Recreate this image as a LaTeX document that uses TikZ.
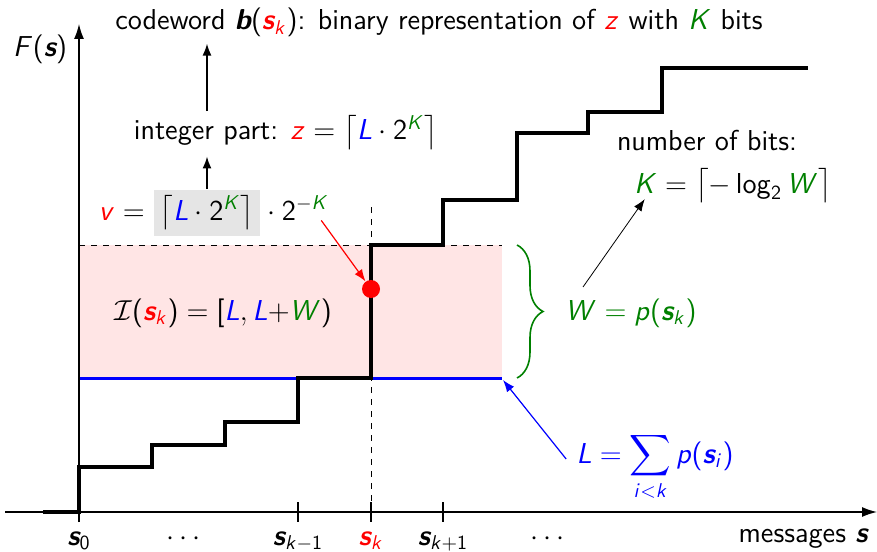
\documentclass[tikz,border=0pt]{standalone}
\usepackage{amsmath}
\usepackage{tikz}
\usetikzlibrary{arrows.meta, positioning, calc, decorations.pathreplacing}
\renewcommand{\familydefault}{\sfdefault}
% sans serif math letters and digits
\DeclareSymbolFont{sfsl}{OT1}{cmss}{m}{sl}
\SetSymbolFont{operators}{normal}{OT1}{cmss}{m}{n}
\makeatletter
\def\sf@letters#1{\ifx#1\relax\else
    \DeclareMathSymbol{#1}{\mathalpha}{sfsl}{`#1}\expandafter\sf@letters\fi}
\sf@letters abcdefghijklmnopqrstuvwxyzABCDEFGHIJKLMNOPQRSTUVWXYZ\relax
\makeatother
\definecolor{dkgreen}{rgb}{0,0.5,0}
\newcommand{\vs}{\text{\sffamily\bfseries\slshape s}}
\newcommand{\vb}{\text{\sffamily\bfseries\slshape b}}
\newcommand{\vsk}{\textcolor{red}{\vs_k}}
\newcommand{\cL}{\textcolor{blue}{L}}
\newcommand{\cK}{\textcolor{dkgreen}{K}}
\newcommand{\cW}{\textcolor{dkgreen}{W}}
\tikzstyle{txt} = [font=\Large, inner sep=2pt]
\tikzstyle{axis} = [line width=0.7pt]
\tikzstyle{cdf} = [line width=2pt, line join=miter]
\tikzstyle{arrow} = [-{Latex[length=6pt, width=4.5pt]}, thick, shorten >=1pt]
\tikzstyle{redarrow} = [-{Latex[length=6pt, width=4.5pt]}, semithick, red]
\tikzstyle{bluearrow} = [-{Latex[length=6pt, width=4.5pt]}, semithick, blue]
\tikzstyle{dot} = [circle, fill=red, inner sep=0pt, minimum size=9pt]
\tikzstyle{brace} = [decorate, decoration={brace, amplitude=13pt}, dkgreen, thick]

\begin{document}
\begin{tikzpicture}[x=0.5pt, y=-0.5pt]
    \useasboundingbox (0,0) rectangle (877,551);

    % Interval of s_k
    \fill[red!10] (79,245) rectangle (502,378);
    \draw[dashed] (79,245) -- (502,245);
    \draw[blue, line width=1.5pt] (79,378) -- (502,378);
    \draw[dashed] (371,207) -- (371,512);
    \coordinate (Lend) at (503,380);

    % Axes
    \draw[axis, -{Latex[length=7.5pt, width=5pt]}] (5,512) -- (877,512);
    \draw[axis, -{Latex[length=7.5pt, width=5pt]}] (79,522) -- (79,24);
    \foreach \x in {298,371,443}
        \draw[axis] (\x,502) -- (\x,522);

    % Cumulative distribution
    \draw[cdf] (43,512) -- (79,512) -- (79,467) -- (152,467) -- (152,445)
        -- (225,445) -- (225,422) -- (298,422) -- (298,378) -- (371,378)
        -- (371,245) -- (443,245) -- (443,200) -- (517,200) -- (517,133)
        -- (588,133) -- (588,112) -- (662,112) -- (662,68) -- (808,68);

    % Axis labels
    \node[txt, anchor=base] (Fs) at (40,57) {$F(\vs)$};
    \node[txt, anchor=base east] (msg) at (872,542) {messages $\vs$};
    \node[txt, anchor=base] (s0) at (79,545) {$\vs_0$};
    \node[txt, anchor=base] (dotsl) at (186,545) {$\cdots$};
    \node[txt, anchor=base] (skm) at (298,545) {$\vs_{k-1}$};
    \node[txt, anchor=base] (sk) at (371,545) {$\vsk$};
    \node[txt, anchor=base] (skp) at (443,545) {$\vs_{k+1}$};
    \node[txt, anchor=base] (dotsr) at (550,545) {$\cdots$};

    % Codeword construction
    \node[txt, anchor=base] (code) at (439,30)
        {codeword $\vb(\vsk)$: binary representation of $\textcolor{red}{z}$ with $\cK$ bits};
    \node[txt, anchor=base] (intpart) at (286,140)
        {integer part: $\textcolor{red}{z} = \left\lceil \cL\cdot 2^{\cK}\right\rceil$};
    \node[txt, fill=black!10, inner sep=3pt, anchor=base] (vbox) at (207,220)
        {$\left\lceil \cL\cdot 2^{\cK}\right\rceil$};
    \node[txt, anchor=base east, inner sep=0pt] (vlab) at (vbox.base west)
        {$\textcolor{red}{v} = {}$};
    \node[txt, anchor=base west, inner sep=0pt] (vrest) at (vbox.base east)
        {${}\cdot 2^{-\cK}$};
    \draw[arrow] (vbox.north) -- (vbox.north |- intpart.south);
    \draw[arrow] (vbox.north |- intpart.north) -- (vbox.north |- code.south);

    % Point v inside the interval
    \node[dot] (vpt) at (371,289) {};
    \draw[redarrow] ($(vrest.south east)+(-8,0)$) -- (vpt);

    % Interval label
    \node[txt, anchor=base] (Isk) at (223,320)
        {$\mathcal{I}(\vsk) = [\cL, \cL{+}\cW)$};

    % Width W
    \draw[brace] (517,245) -- (517,378);
    \node[txt, anchor=base west, text=dkgreen] (Wlab) at (561,320) {$W = p(\vs_k)$};
    \node[txt, anchor=base, inner sep=0pt] (bits) at (707,150) {number of bits:};
    \node[txt, anchor=base, inner sep=0pt] (Klab) at (733,193)
        {$\cK = \bigl\lceil -\log_2 \cW\bigr\rceil$};
    \draw[arrow, thin] ($(Wlab.north west)+(22,-7)$) -- ($(Klab.south west)+(12,-6)$);

    % Lower bound L
    \node[txt, anchor=base, text=blue] (Llab) at (655,463)
        {$L = \displaystyle\sum_{i<k} p(\vs_i)$};
    \draw[bluearrow] ($(Llab.west)+(-6,-8)$) -- (Lend);
\end{tikzpicture}
\end{document}
